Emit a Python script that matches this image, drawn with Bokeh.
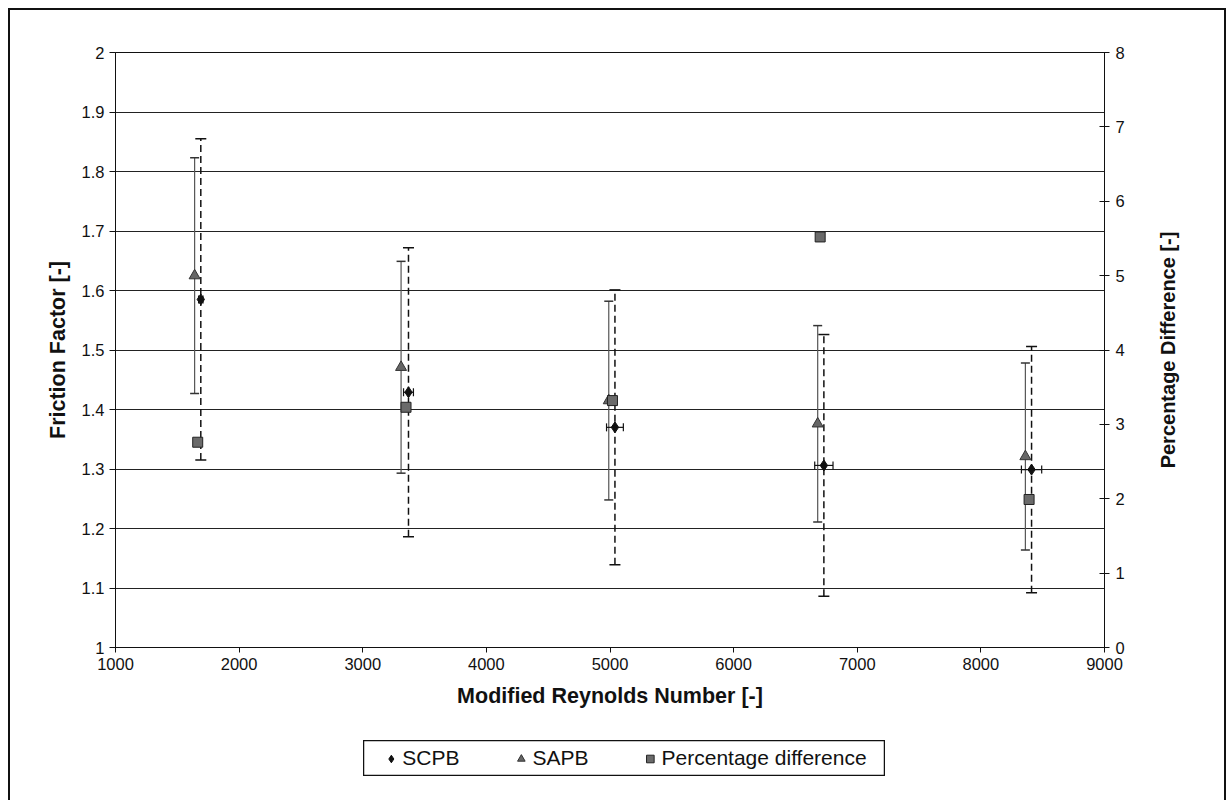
from bokeh.plotting import figure
from bokeh.layouts import column, row
from bokeh.models import (ColumnDataSource, Range1d, LinearAxis, Whisker, TeeHead,
                          Legend, LegendItem, FixedTicker)
from bokeh.embed import file_html
from bokeh.resources import INLINE

# ---- data ----
re_scpb = [1690, 3370, 5040, 6730, 8410]
ff_scpb = [1.585, 1.429, 1.370, 1.306, 1.299]
ff_err_scpb = [0.270, 0.243, 0.231, 0.220, 0.207]
re_err_scpb = [18, 40, 68, 74, 82]

re_sapb = [1640, 3310, 4990, 6680, 8360]
ff_sapb = [1.625, 1.471, 1.415, 1.376, 1.321]
ff_err_sapb = [0.198, 0.178, 0.167, 0.165, 0.157]

re_pd = [1665, 3350, 5020, 6700, 8390]
pct_diff = [2.76, 3.23, 3.32, 5.52, 1.99]

x_ticks = [1000, 2000, 3000, 4000, 5000, 6000, 7000, 8000, 9000]
y_ticks = [1, 1.1, 1.2, 1.3, 1.4, 1.5, 1.6, 1.7, 1.8, 1.9, 2]
y2_ticks = [0, 1, 2, 3, 4, 5, 6, 7, 8]

series_names = ["SCPB", "SAPB", "Percentage difference"]

FONT = "Liberation Sans"
INK = "#111111"

src_scpb = ColumnDataSource(dict(
    x=re_scpb, y=ff_scpb,
    lo=[v - e for v, e in zip(ff_scpb, ff_err_scpb)],
    hi=[v + e for v, e in zip(ff_scpb, ff_err_scpb)],
    xlo=[v - e for v, e in zip(re_scpb, re_err_scpb)],
    xhi=[v + e for v, e in zip(re_scpb, re_err_scpb)],
))
src_sapb = ColumnDataSource(dict(
    x=re_sapb, y=ff_sapb,
    lo=[v - e for v, e in zip(ff_sapb, ff_err_sapb)],
    hi=[v + e for v, e in zip(ff_sapb, ff_err_sapb)],
))
src_pd = ColumnDataSource(dict(x=re_pd, y=pct_diff))

# ---------------- main chart ----------------
p = figure(width=1124, height=710, output_backend="svg", toolbar_location=None,
           x_range=Range1d(1000, 9000), y_range=Range1d(1, 2),
           min_border_left=105, min_border_right=30, min_border_top=42,
           min_border_bottom=73)
p.extra_y_ranges = {"pct": Range1d(0, 8)}

p.outline_line_color = INK
p.outline_line_width = 1
p.background_fill_color = "white"
p.border_fill_color = "white"
p.xgrid.grid_line_color = None
p.ygrid.grid_line_color = "#222222"
p.ygrid.grid_line_width = 1.2
p.ygrid.ticker = FixedTicker(ticks=y_ticks)

xa = p.xaxis[0]
xa.ticker = FixedTicker(ticks=x_ticks)
xa.axis_label = "Modified Reynolds Number [-]"
ya = p.yaxis[0]
ya.ticker = FixedTicker(ticks=y_ticks)
ya.axis_label = "Friction Factor [-]"
ra = LinearAxis(y_range_name="pct", ticker=FixedTicker(ticks=y2_ticks))
p.add_layout(ra, "right")

for ax in (xa, ya, ra):
    ax.axis_line_color = INK
    ax.major_tick_line_color = INK
    ax.minor_tick_line_color = None
    ax.major_label_text_font = FONT
    ax.major_label_text_font_size = "16.5px"
    ax.major_label_text_color = INK
    ax.axis_label_text_font = FONT
    ax.axis_label_text_font_size = "21.5px"
    ax.axis_label_text_font_style = "bold"
    ax.axis_label_text_color = INK
xa.major_tick_in = 0
xa.major_tick_out = 5
xa.axis_label_standoff = 11
ya.major_tick_in = 0
ya.major_tick_out = 6
ya.axis_label_standoff = 9
ra.major_tick_in = 5
ra.major_tick_out = 5
ra.major_label_standoff = 6

# error bars
p.add_layout(Whisker(source=src_sapb, base="x", lower="lo", upper="hi", dimension="height",
                     line_color="#555555", line_width=1.2,
                     upper_head=TeeHead(size=9, line_color="#333333", line_width=1.5),
                     lower_head=TeeHead(size=9, line_color="#333333", line_width=1.5)))
p.add_layout(Whisker(source=src_scpb, base="x", lower="lo", upper="hi", dimension="height",
                     line_color=INK, line_width=1.5, line_dash="7 4",
                     upper_head=TeeHead(size=11, line_color=INK, line_width=1.5),
                     lower_head=TeeHead(size=11, line_color=INK, line_width=1.5)))
p.add_layout(Whisker(source=src_scpb, base="y", lower="xlo", upper="xhi", dimension="width",
                     line_color=INK, line_width=1.2,
                     upper_head=TeeHead(size=8, line_color=INK, line_width=1.2),
                     lower_head=TeeHead(size=8, line_color=INK, line_width=1.2)))

# markers
STY = [dict(marker="diamond", size=11, fill_color=INK, line_color=INK),
       dict(marker="triangle", size=11, fill_color="#666666", line_color="#333333"),
       dict(marker="square", size=10, fill_color="#6a6a6a", line_color="#222222")]
p.scatter("x", "y", source=src_scpb, **STY[0])
p.scatter("x", "y", source=src_sapb, **STY[1])
p.scatter("x", "y", source=src_pd, y_range_name="pct", **STY[2])

# ------------- right-hand axis title (reads bottom-to-top) -------------
lab = figure(width=90, height=710, output_backend="svg", toolbar_location=None,
             x_range=Range1d(0, 1), y_range=Range1d(0, 8),
             min_border_left=44, min_border_right=0, min_border_top=42,
             min_border_bottom=73, x_axis_location=None, y_axis_location="left")
lab.outline_line_color = None
lab.grid.grid_line_color = None
lab.border_fill_color = "white"
la = lab.yaxis[0]
la.ticker = FixedTicker(ticks=[])
la.axis_line_color = None
la.major_tick_line_color = None
la.minor_tick_line_color = None
la.major_tick_in = 0
la.major_tick_out = 0
la.major_label_standoff = 0
la.axis_label = "Percentage Difference [-]"
la.axis_label_standoff = 0
la.axis_label_text_font = FONT
la.axis_label_text_font_size = "20px"
la.axis_label_text_font_style = "bold"
la.axis_label_text_color = INK

# ---------------- legend box ----------------
# proxy renderers hold the real series but lie outside this small box's ranges,
# so only their legend glyphs are visible
lg = figure(width=522, height=36, output_backend="svg", toolbar_location=None,
            x_range=Range1d(0, 1), y_range=Range1d(0, 1), min_border=0,
            x_axis_location=None, y_axis_location=None)
lg.grid.grid_line_color = None
lg.outline_line_color = INK
lg.outline_line_width = 1.5
lg.margin = (20, 0, 24, 353)
proxies = [lg.scatter("x", "y", source=s, **st)
           for s, st in zip([src_scpb, src_sapb, src_pd], STY)]
legend = Legend(items=[LegendItem(label=n, renderers=[r]) for n, r in zip(series_names, proxies)],
                orientation="horizontal", location="center")
legend.label_text_font = FONT
legend.label_text_font_size = "21px"
legend.label_text_color = INK
legend.border_line_color = None
legend.background_fill_alpha = 0
legend.glyph_width = 19
legend.glyph_height = 19
legend.label_standoff = 2
legend.spacing = 52
legend.padding = 0
legend.margin = 0
lg.add_layout(legend, "center")

layout = column(row(p, lab), lg)
layout.styles = {"margin-left": "8px", "margin-top": "8px",
                 "border-left": "2px solid #111", "border-top": "2px solid #111",
                 "border-right": "2px solid #111", "background": "white"}

open("out.html", "w").write(file_html(layout, INLINE))
